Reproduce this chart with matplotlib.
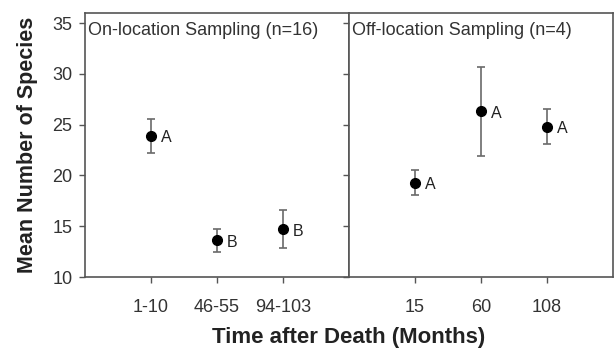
import matplotlib
matplotlib.use("Agg")
import matplotlib.pyplot as plt

plt.rcParams["font.family"] = ["Liberation Sans", "DejaVu Sans"]

on_labels = ["1-10", "46-55", "94-103"]
on_means = [23.9, 13.6, 14.7]
on_err = [1.7, 1.1, 1.85]
on_groups = ["A", "B", "B"]

off_labels = ["15", "60", "108"]
off_means = [19.3, 26.3, 24.8]
off_err = [1.2, 4.35, 1.75]
off_groups = ["A", "A", "A"]

edge = "#555555"
W, H = 614, 352
fig = plt.figure(figsize=(W / 100, H / 100), dpi=100)
x0, y0, y1 = 85 / W, 1 - 277 / H, 1 - 13 / H
pw = 264 / W
ax1 = fig.add_axes([x0, y0, pw, y1 - y0])
ax2 = fig.add_axes([x0 + pw, y0, pw, y1 - y0], sharey=ax1)

panels = [
    (ax1, on_labels, on_means, on_err, on_groups, "On-location Sampling (n=16)"),
    (ax2, off_labels, off_means, off_err, off_groups, "Off-location Sampling (n=4)"),
]
for ax, labels, means, errs, groups, title in panels:
    xs = range(1, len(labels) + 1)
    ax.errorbar(xs, means, yerr=errs, fmt="o", color="black", ms=7,
                ecolor="#6a6a6a", elinewidth=1.2, capsize=3.2, capthick=1.2)
    for x, m, g in zip(xs, means, groups):
        ax.text(x + 0.15, m - 0.2, g, fontsize=11.5, color="#222222", va="center", ha="left")
    ax.set_xlim(0, 4)
    ax.set_xticks(list(xs))
    ax.set_xticklabels(labels)
    ax.text(0.012, 0.965, title, transform=ax.transAxes, fontsize=13,
            color="#333333", va="top", ha="left")
    for s in ax.spines.values():
        s.set_color(edge)
        s.set_linewidth(1.2)
    ax.tick_params(colors=edge, labelcolor="#333333", labelsize=13, length=4, width=1.0)
    ax.tick_params(axis="x", pad=12)
    ax.tick_params(axis="y", pad=5)

ax1.set_ylim(10, 36)
ax1.set_yticks([10, 15, 20, 25, 30, 35])
ax2.tick_params(axis="y", labelleft=False)
ax1.set_ylabel("Mean Number of Species", fontsize=15.5, fontweight="bold",
               color="#222222", labelpad=10)
fig.text((x0 + pw), 1 - 337 / H, "Time after Death (Months)", fontsize=16,
         fontweight="bold", color="#222222", ha="center", va="center")

fig.savefig("out.png", dpi=100)
